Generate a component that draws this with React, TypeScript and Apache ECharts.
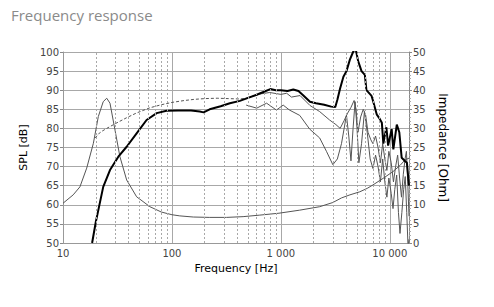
import React, { useEffect, useRef } from 'react';
import * as echarts from 'echarts';

const xMin = 10;
const xMax = 15000;
const xLabelValues = [10, 100, 1000, 10000];
const minorGridFreqs = [20, 30, 40, 50, 60, 70, 80, 90, 200, 300, 400, 500, 600, 700, 800, 900, 2000, 3000, 4000, 5000, 6000, 7000, 8000, 9000];

// SPL on-axis [Hz, dB]
const onAxisSpl: [number, number][] = [
  [18.5, 50], [20, 55.5], [21.1, 58.6], [23.4, 64.7], [27, 69.1], [32.2, 72.6], [38.4, 75.2], [47.4, 78.7],
  [58.5, 82.2], [72.5, 84], [89, 84.6], [114, 84.7], [150, 84.7], [180, 84.4], [195, 84.2], [222, 85],
  [280, 85.8], [340, 86.6], [420, 87.2], [500, 88], [600, 88.8], [700, 89.6], [800, 90.3], [900, 90],
  [1000, 90], [1150, 89.8], [1300, 90.2], [1450, 89.8], [1600, 88.7], [1850, 87], [2100, 86.6], [2500, 86.2],
  [2900, 85.7], [3160, 85.6], [3300, 87.5], [3500, 90.5], [3750, 93.5], [4000, 95], [4300, 98], [4600, 100],
  [4840, 101], [5120, 97.6], [5500, 95], [5900, 94], [6100, 90], [6800, 88.5], [7050, 87], [7600, 83.6],
  [8090, 82.5], [8450, 81.5], [8720, 76], [9300, 80.3], [9650, 75.5], [10400, 79.8], [10770, 74.5],
  [11590, 81], [12220, 79], [12850, 72.3], [13850, 71.4], [14350, 71], [15000, 65]
];

// SPL 30 deg [Hz, dB]
const offAxis30: [number, number][] = [
  [480, 87.9], [640, 89], [790, 89.4], [1000, 88.9], [1130, 89.2], [1250, 88.2], [1500, 88.6], [1850, 86],
  [2270, 84.4], [2800, 82.2], [3200, 81], [3500, 80], [3800, 82], [4100, 84], [4400, 85.5], [4700, 87.3],
  [4900, 85], [5100, 79], [5400, 83], [5700, 85], [6000, 83.5], [6300, 79], [6700, 77], [7000, 76],
  [7400, 78], [7800, 75], [8200, 71], [8600, 76], [9000, 72], [9400, 69], [9800, 74], [10300, 71],
  [10800, 66], [11300, 70], [11800, 73], [12300, 67], [12800, 62], [13300, 68], [13800, 72], [14200, 74],
  [14600, 66], [15000, 57]
];

// SPL 60 deg [Hz, dB]
const offAxis60: [number, number][] = [
  [480, 86.1], [600, 85.3], [740, 86.6], [910, 84.8], [1050, 86.1], [1200, 84.8], [1490, 83.4], [1840, 79.8],
  [2270, 77.5], [2620, 74], [3000, 70.5], [3300, 72], [3600, 76], [4000, 83.5], [4200, 78], [4400, 71.5],
  [4600, 80], [4800, 87], [5000, 80], [5200, 71], [5500, 76], [5850, 84.4], [6200, 79], [6600, 72],
  [7000, 69.5], [7400, 73], [7800, 70], [8200, 66], [8600, 72], [9000, 66], [9400, 62], [9800, 67],
  [10300, 63], [10700, 59], [11100, 64], [11560, 67.8], [12000, 58], [12400, 52.5], [12900, 58],
  [13400, 64], [13850, 67.4], [14300, 58], [14700, 49], [15000, 51]
];

// Simulated / low-frequency part (dashed) [Hz, dB]
const lowFreqDashed: [number, number][] = [
  [19.7, 77.5], [22, 79], [25.2, 80], [30, 81.2], [38.4, 82.8], [47, 84], [62.8, 85.4], [80, 86.2],
  [100, 86.8], [130, 87.3], [160, 87.6], [200, 87.8], [260, 87.9], [330, 87.8], [420, 87.7], [480, 87.9]
];

// Impedance [Hz, Ohm]
const impedance: [number, number][] = [
  [10, 10.4], [12.4, 12.6], [14.3, 14.7], [16.5, 19.6], [19, 26.1], [21.1, 33.1], [23.4, 37], [25.2, 37.9],
  [27, 36.6], [30, 29.6], [33.3, 22.6], [38.4, 16.5], [47.4, 12.1], [62.8, 9.5], [80, 8.1], [100, 7.4],
  [118, 7.1], [157, 6.8], [220, 6.7], [317, 6.7], [450, 6.9], [640, 7.3], [960, 7.8], [1490, 8.6],
  [2270, 9.5], [3000, 10.6], [3600, 11.8], [4300, 12.6], [5300, 13.4], [6200, 14.3], [7000, 15.2],
  [8650, 16.9], [10700, 18.7], [12400, 20.3], [13850, 21.8], [15000, 22.2]
];

const FONT = 'DejaVu Sans';
const GRID = '#a8a8a8';

function fmtFreq(v: number): string {
  const r = Math.round(v);
  if (!xLabelValues.includes(r)) return '';
  return String(r).replace(/\B(?=(\d{3})+(?!\d))/g, ' ');
}

export default function App() {
  const ref = useRef<HTMLDivElement>(null);
  useEffect(() => {
    const chart = echarts.init(ref.current!, null, { renderer: 'svg' });
    chart.setOption({
      animation: false,
      backgroundColor: '#fff',
      title: {
        text: 'Frequency response',
        left: 6,
        top: 2,
        textStyle: { fontFamily: 'Open Sans', fontSize: 15, fontWeight: 'normal', color: '#8a8a8a' }
      },
      grid: { left: 63, right: 85, top: 52, bottom: 64 },
      xAxis: {
        type: 'log',
        logBase: 10,
        min: xMin,
        max: xMax,
        name: 'Frequency [Hz]',
        nameLocation: 'middle',
        nameGap: 18,
        nameTextStyle: { fontFamily: FONT, fontSize: 11, color: '#000' },
        axisLine: { show: true, lineStyle: { color: '#999', width: 1 } },
        axisTick: { show: false },
        axisLabel: { formatter: fmtFreq, fontFamily: FONT, fontSize: 10, color: '#444', margin: 5, showMaxLabel: false },
        splitLine: { show: true, lineStyle: { color: GRID, width: 1 } }
      },
      yAxis: [
        {
          type: 'value',
          min: 50,
          max: 100,
          interval: 5,
          name: 'SPL [dB]',
          nameLocation: 'middle',
          nameGap: 27,
          nameTextStyle: { fontFamily: FONT, fontSize: 11, color: '#000' },
          axisLine: { show: true, lineStyle: { color: '#999' } },
          axisTick: { show: true, length: 3, lineStyle: { color: '#888' } },
          axisLabel: { fontFamily: FONT, fontSize: 10, color: '#444', margin: 4 },
          splitLine: { show: true, lineStyle: { color: GRID, width: 1 } }
        },
        {
          type: 'value',
          min: 0,
          max: 50,
          interval: 5,
          position: 'right',
          name: 'Impedance [Ohm]',
          nameLocation: 'middle',
          nameRotate: -90,
          nameGap: 21,
          nameTextStyle: { fontFamily: FONT, fontSize: 12, color: '#000' },
          axisLine: { show: true, lineStyle: { color: '#888' } },
          axisTick: { show: true, length: 3, lineStyle: { color: '#888' } },
          minorTick: { show: true, splitNumber: 5, length: 2, lineStyle: { color: '#aaa' } },
          axisLabel: { fontFamily: FONT, fontSize: 10, color: '#444', margin: 4 },
          splitLine: { show: false }
        }
      ],
      series: [
        {
          type: 'line',
          name: 'grid',
          data: [[xMin, 50]],
          showSymbol: false,
          lineStyle: { opacity: 0 },
          silent: true,
          z: 1,
          markLine: {
            silent: true,
            symbol: 'none',
            label: { show: false },
            lineStyle: { color: GRID, type: [2, 2], width: 1 },
            data: minorGridFreqs.map((f) => ({ xAxis: f }))
          }
        },
        {
          type: 'line',
          name: 'Impedance',
          yAxisIndex: 1,
          data: impedance,
          showSymbol: false,
          z: 3,
          lineStyle: { color: '#555', width: 1 }
        },
        {
          type: 'line',
          name: 'Low frequency',
          data: lowFreqDashed,
          showSymbol: false,
          z: 3,
          lineStyle: { color: '#555', width: 1, type: [3, 2] }
        },
        {
          type: 'line',
          name: '60 deg',
          data: offAxis60,
          showSymbol: false,
          z: 3,
          lineStyle: { color: '#555', width: 1 }
        },
        {
          type: 'line',
          name: '30 deg',
          data: offAxis30,
          showSymbol: false,
          z: 3,
          lineStyle: { color: '#555', width: 1 }
        },
        {
          type: 'line',
          name: 'On axis',
          data: onAxisSpl,
          showSymbol: false,
          z: 4,
          lineStyle: { color: '#000', width: 2 }
        }
      ]
    });
    return () => chart.dispose();
  }, []);
  return (
    <div
      ref={ref}
      style={{ position: 'absolute', left: 0, top: 0, width: 494, height: 307, background: '#fff' }}
    />
  );
}
